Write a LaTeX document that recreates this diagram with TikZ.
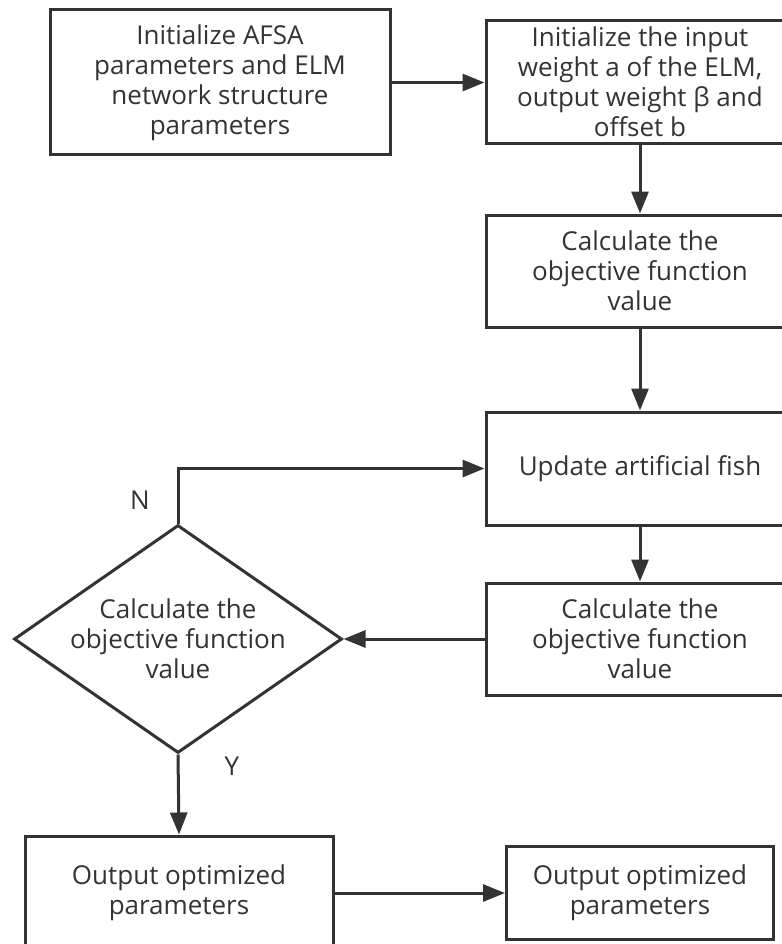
\documentclass[tikz,border=0pt]{standalone}
\usepackage{fontspec}
\setmainfont{Open Sans}
\usetikzlibrary{arrows.meta,shapes.geometric}
\definecolor{ink}{HTML}{333333}
\begin{document}
\begin{tikzpicture}[x=1pt,y=-1pt,
  every node/.style={text=ink},
  txt/.style={font=\fontsize{26}{30}\selectfont, align=center, inner sep=0pt},
  box/.style={txt, draw=ink, line width=3pt, rectangle},
  conn/.style={draw=ink, line width=3pt, -{Triangle[length=22pt,width=17pt]}},
  lbl/.style={font=\fontsize{26}{30}\selectfont, inner sep=0pt}]
\useasboundingbox (0,0) rectangle (781,944);
\fill[white] (0,0) rectangle (781,944);

\node[box, minimum width=340pt, minimum height=145pt] (b1) at (220,82.5)
  {Initialize AFSA\\parameters and ELM\\network structure\\parameters};
\node[box, minimum width=308pt, minimum height=123pt] (b2) at (640,82)
  {Initialize the input\\weight a of the ELM,\\output weight β and\\offset b};
\node[box, minimum width=308pt, minimum height=112pt] (b3) at (640,271)
  {Calculate the\\objective function\\value};
\node[box, minimum width=308pt, minimum height=113pt] (b4) at (640,468.5)
  {Update artificial fish};
\node[box, minimum width=308pt, minimum height=112pt] (b5) at (640,639)
  {Calculate the\\objective function\\value};
\node[diamond, draw=ink, line width=3pt, minimum width=328pt, minimum height=228pt, inner sep=0pt] (d) at (178,639) {};
\node[txt] (dt) at (178,639) {Calculate the\\objective function\\value};
\node[box, minimum width=308pt, minimum height=114pt] (b6) at (179,893)
  {Output optimized\\parameters};
\node[box, minimum width=267pt, minimum height=93pt] (b7) at (640,893)
  {Output optimized\\parameters};

\node[lbl] (n) at (140,500) {N};
\node[lbl] (y) at (232,766) {Y};

\draw[conn] (b1.east) -- (b1.east -| b2.west);
\draw[conn] (b2.south) -- (b3.north);
\draw[conn] (b3.south) -- (b4.north);
\draw[conn] (b4.south) -- (b5.north);
\draw[conn] (b5.west) -- (d.east);
\draw[conn] (d.north) |- (b4.west);
\draw[conn] (d.south) -- (b6.north);
\draw[conn] (b6.east) -- (b7.west);
\end{tikzpicture}
\end{document}
